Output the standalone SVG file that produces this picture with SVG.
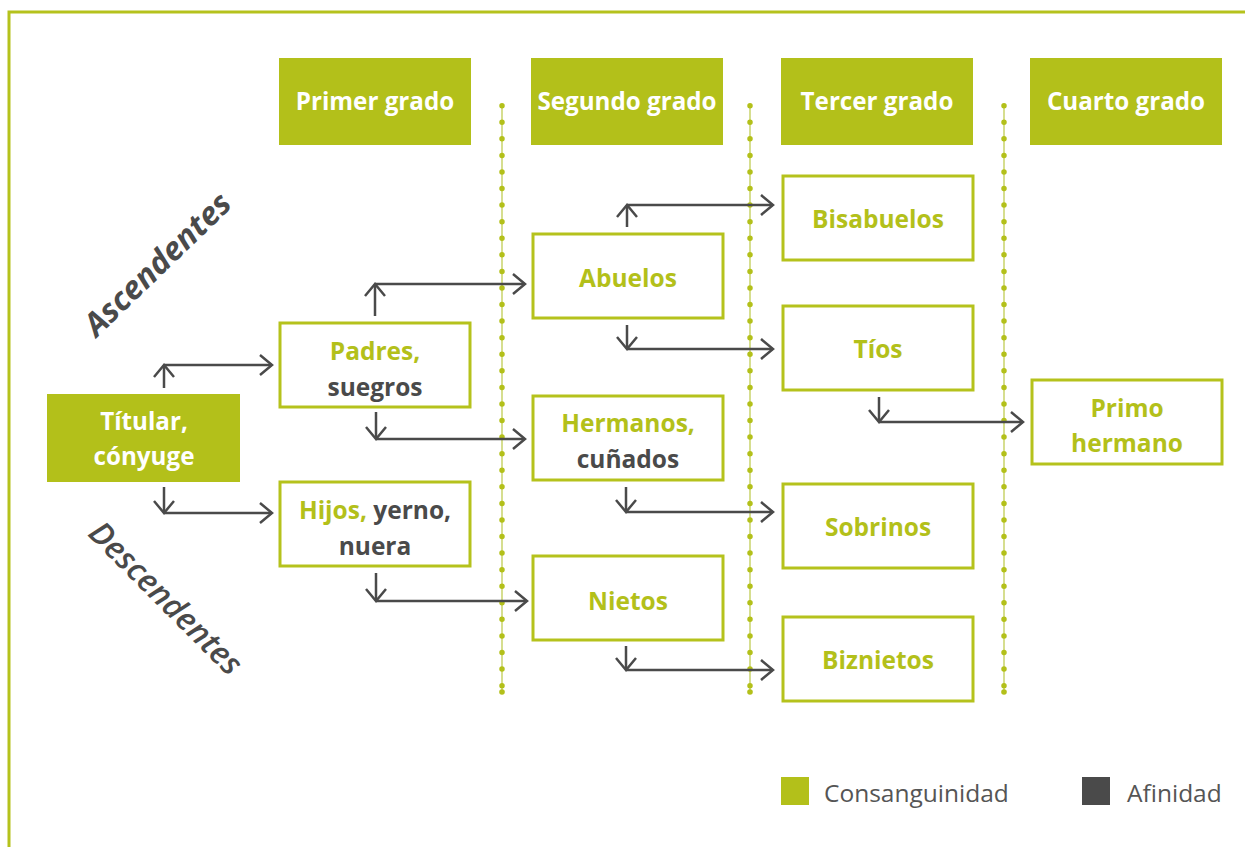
<svg xmlns="http://www.w3.org/2000/svg" width="1245" height="847" viewBox="0 0 1245 847">
<defs>
<style>
.frame{fill:none;stroke:#b5c21c;stroke-width:3}
.hdr{fill:#b3c01a}
.box{fill:#fff;stroke:#b5c21c;stroke-width:3}
.hbox{fill:#b3c01a}
.ht{font-family:"Open Sans","Liberation Sans",sans-serif;font-weight:700;font-size:24.2px;fill:#fff;text-anchor:middle}
.nt{font-family:"Open Sans","Liberation Sans",sans-serif;font-weight:700;font-size:24.5px;fill:#b3c01a;text-anchor:middle}
.dk{fill:#4a4a4a}
.side{font-family:"Open Sans","Liberation Sans",sans-serif;font-style:italic;font-size:32px;fill:#4a4a4a;text-anchor:middle}
.leg{font-family:"Open Sans","Liberation Sans",sans-serif;font-size:24.5px;fill:#555}
.con line{stroke:#4a4a4a;stroke-width:2.5;fill:none}
.dl{stroke:#c8d36a;stroke-width:1.5}
.dd{stroke:#b3c01a;stroke-width:5.5;stroke-linecap:round;stroke-dasharray:0 16.57}
</style>
<marker id="ah" viewBox="-13 -11 15 22" markerWidth="15" markerHeight="22" refX="0" refY="0" orient="auto" markerUnits="userSpaceOnUse">
<path d="M-12,-10 L0,0 L-12,10" fill="none" stroke="#4a4a4a" stroke-width="2.5"/>
</marker>
</defs>
<rect width="1245" height="847" fill="#fff"/>
<path class="frame" d="M9,847 V12 H1245"/>

<g id="dividers">
<line class="dl" x1="502" y1="105.7" x2="502" y2="692"/>
<line class="dd" x1="502" y1="105.7" x2="502" y2="692"/>
<circle cx="502" cy="692" r="2.8" fill="#b3c01a"/>
<line class="dl" x1="750" y1="105.7" x2="750" y2="692"/>
<line class="dd" x1="750" y1="105.7" x2="750" y2="692"/>
<circle cx="750" cy="692" r="2.8" fill="#b3c01a"/>
<line class="dl" x1="1004" y1="105.7" x2="1004" y2="692"/>
<line class="dd" x1="1004" y1="105.7" x2="1004" y2="692"/>
<circle cx="1004" cy="692" r="2.8" fill="#b3c01a"/>
</g>

<g id="h1"><rect class="hdr" x="279" y="58" width="192" height="87"/><text class="ht" x="375" y="110">Primer grado</text></g>
<g id="h2"><rect class="hdr" x="531" y="58" width="192" height="87"/><text class="ht" x="627" y="110">Segundo grado</text></g>
<g id="h3"><rect class="hdr" x="781" y="58" width="192" height="87"/><text class="ht" x="877" y="110">Tercer grado</text></g>
<g id="h4"><rect class="hdr" x="1030" y="58" width="192" height="87"/><text class="ht" x="1126" y="110">Cuarto grado</text></g>

<g id="ascendentes"><text class="side" font-weight="700" transform="translate(165,272) rotate(-44)">Ascendentes</text></g>
<g id="descendentes"><text class="side" font-weight="600" transform="translate(158,606) rotate(45)">Descendentes</text></g>

<g id="connectors" class="con">
<line x1="164" y1="388" x2="164" y2="365" marker-end="url(#ah)"/><line x1="164" y1="365" x2="272" y2="365" marker-end="url(#ah)"/>
<line x1="164" y1="487" x2="164" y2="513" marker-end="url(#ah)"/><line x1="164" y1="513" x2="272" y2="513" marker-end="url(#ah)"/>
<line x1="375" y1="316" x2="375" y2="284" marker-end="url(#ah)"/><line x1="375" y1="284" x2="525" y2="284" marker-end="url(#ah)"/>
<line x1="376" y1="412" x2="376" y2="439" marker-end="url(#ah)"/><line x1="376" y1="439" x2="525" y2="439" marker-end="url(#ah)"/>
<line x1="376" y1="573" x2="376" y2="601" marker-end="url(#ah)"/><line x1="376" y1="601" x2="527" y2="601" marker-end="url(#ah)"/>
<line x1="627" y1="227" x2="627" y2="205" marker-end="url(#ah)"/><line x1="627" y1="205" x2="773" y2="205" marker-end="url(#ah)"/>
<line x1="627" y1="325" x2="627" y2="349" marker-end="url(#ah)"/><line x1="627" y1="349" x2="773" y2="349" marker-end="url(#ah)"/>
<line x1="626" y1="487" x2="626" y2="512" marker-end="url(#ah)"/><line x1="626" y1="512" x2="773" y2="512" marker-end="url(#ah)"/>
<line x1="626" y1="646" x2="626" y2="670" marker-end="url(#ah)"/><line x1="626" y1="670" x2="773" y2="670" marker-end="url(#ah)"/>
<line x1="879" y1="397" x2="879" y2="422" marker-end="url(#ah)"/><line x1="879" y1="422" x2="1023" y2="422" marker-end="url(#ah)"/>
</g>

<g id="titular"><rect class="hbox" x="47" y="394" width="193" height="88"/><text class="ht" x="144" y="430">Títular,</text><text class="ht" x="144" y="465">cónyuge</text></g>
<g id="padres"><rect class="box" x="280" y="323" width="190" height="84"/><text class="nt" x="375" y="360">Padres,</text><text class="nt dk" x="375" y="396">suegros</text></g>
<g id="hijos"><rect class="box" x="280" y="482" width="190" height="84"/><text class="nt" x="375" y="519">Hijos, <tspan class="dk">yerno,</tspan></text><text class="nt dk" x="375" y="555">nuera</text></g>
<g id="abuelos"><rect class="box" x="533" y="234" width="190" height="84"/><text class="nt" x="628" y="287">Abuelos</text></g>
<g id="hermanos"><rect class="box" x="533" y="396" width="190" height="84"/><text class="nt" x="628" y="432">Hermanos,</text><text class="nt dk" x="628" y="468">cuñados</text></g>
<g id="nietos"><rect class="box" x="533" y="556" width="190" height="84"/><text class="nt" x="628" y="610">Nietos</text></g>
<g id="bisabuelos"><rect class="box" x="783" y="176" width="190" height="84"/><text class="nt" x="878" y="228">Bisabuelos</text></g>
<g id="tios"><rect class="box" x="783" y="306" width="190" height="84"/><text class="nt" x="878" y="358">Tíos</text></g>
<g id="sobrinos"><rect class="box" x="783" y="484" width="190" height="84"/><text class="nt" x="878" y="536">Sobrinos</text></g>
<g id="biznietos"><rect class="box" x="783" y="617" width="190" height="84"/><text class="nt" x="878" y="669">Biznietos</text></g>
<g id="primo"><rect class="box" x="1032" y="380" width="190" height="84"/><text class="nt" x="1127" y="417">Primo</text><text class="nt" x="1127" y="452">hermano</text></g>

<g id="legend">
<rect x="781" y="777" width="28" height="28" fill="#b3c01a"/><text class="leg" x="824" y="802">Consanguinidad</text>
<rect x="1082" y="777" width="28" height="28" fill="#4a4a4a"/><text class="leg" x="1127" y="802">Afinidad</text>
</g>
</svg>
